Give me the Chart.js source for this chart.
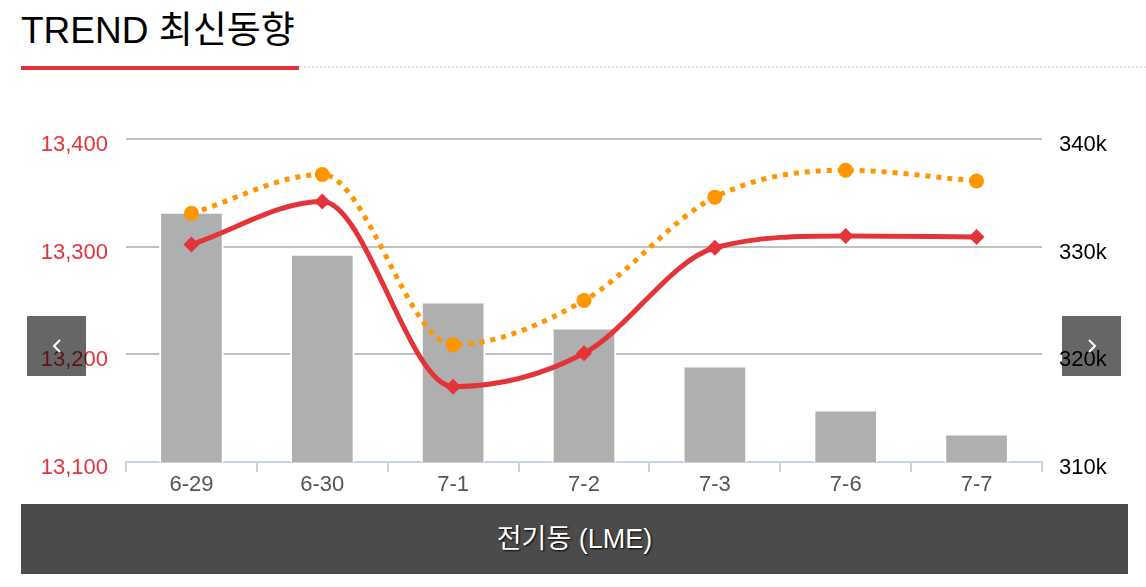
<!DOCTYPE html>
<html>
<head>
<meta charset="utf-8">
<script src="https://cdn.jsdelivr.net/npm/chart.js@4/dist/chart.umd.min.js"></script>
<style>
  body { margin: 0; width: 1146px; height: 587px; background: #fff; position: relative; overflow: hidden;
         font-family: "Liberation Sans", Arial, "Noto Sans CJK KR", sans-serif; }
  #title { position: absolute; left: 21px; top: 12px; font-size: 37px; line-height: 1; color: #000; white-space: nowrap; }
  #title-line { position: absolute; left: 299px; right: 0; top: 66px; border-top: 2px dotted #e3e6ec; }
  #title-red { position: absolute; left: 21px; width: 278px; top: 66px; height: 4px; background: #e3343a; }
  #wrap { position: absolute; left: 0; top: 100px; width: 1146px; height: 400px; }
  .nav { position: absolute; top: 316px; width: 59px; height: 60px; background: rgba(0,0,0,0.6); }
  .nav svg { position: absolute; left: 23px; top: 22px; }
  #footer { position: absolute; left: 21px; width: 1107px; top: 504px; height: 70px; background: #4b4b4b;
            color: #fff; font-size: 27px; text-align: center; line-height: 70px; text-shadow: 1px 1px 2px #000; }
</style>
</head>
<body>
<div id="title">TREND 최신동향</div>
<div id="title-line"></div>
<div id="title-red"></div>
<div id="wrap"><canvas id="chart"></canvas></div>
<div class="nav" style="left:27px"><svg width="14" height="16"><polyline points="10,2 4,8 10,14" fill="none" stroke="#fff" stroke-width="2"/></svg></div>
<div class="nav" style="left:1062px"><svg width="14" height="16"><polyline points="4,2 10,8 4,14" fill="none" stroke="#fff" stroke-width="2"/></svg></div>
<div id="footer">전기동 (LME)</div>
<script>
const $chart = document.querySelector("#chart");

const fechas = ["6-29", "6-30", "7-1", "7-2", "7-3", "7-6", "7-7"];
const precioRojo = [13302, 13342, 13170, 13201, 13299, 13310, 13309];
const precioNaranja = [13331, 13367, 13209, 13250, 13346, 13371, 13361];
const inventario = [333220, 329320, 324870, 322460, 318930, 314850, 312620];

const fuente = "'Liberation Sans', Arial, sans-serif";

new Chart($chart, {
    type: 'bar',
    data: {
        labels: fechas,
        datasets: [
            {
                type: 'line',
                data: precioRojo,
                yAxisID: 'y',
                borderColor: '#e3343a',
                backgroundColor: '#e3343a',
                borderWidth: 5,
                cubicInterpolationMode: 'monotone',
                pointStyle: 'rectRot',
                pointRadius: 8,
                pointBorderWidth: 0,
            },
            {
                type: 'line',
                data: precioNaranja,
                yAxisID: 'y',
                borderColor: '#ff9600',
                backgroundColor: '#ff9600',
                borderWidth: 5,
                borderDash: [5, 6],
                cubicInterpolationMode: 'monotone',
                pointStyle: 'circle',
                pointRadius: 7.5,
                pointBorderWidth: 0,
            },
            {
                data: inventario,
                yAxisID: 'y2',
                backgroundColor: '#afafaf',
                borderColor: '#fff',
                borderWidth: { top: 2, left: 2, right: 2, bottom: 0 },
                borderSkipped: false,
                barThickness: 64,
            }
        ]
    },
    options: {
        animation: false,
        responsive: true,
        maintainAspectRatio: false,
        layout: { padding: { top: 39, bottom: 0, left: 0, right: 0 } },
        plugins: { legend: { display: false }, tooltip: { enabled: false } },
        scales: {
            x: {
                offset: true,
                grid: { offset: true, drawOnChartArea: false, drawTicks: true, tickLength: 10, color: '#c6d3e2', lineWidth: 2 },
                border: { color: '#c6d3e2', width: 2 },
                ticks: { color: '#555', font: { family: fuente, size: 22 }, padding: 0 },
                afterFit: (s) => { s.height = 38; }
            },
            y: {
                position: 'left',
                min: 13100, max: 13400,
                ticks: { stepSize: 100, color: '#e3343a', padding: 18, labelOffset: 6, font: { family: fuente, size: 22 },
                         callback: (v) => v.toLocaleString('en-US') },
                grid: { color: '#c0c0c0', lineWidth: 2, drawTicks: false },
                border: { display: false },
                afterFit: (s) => { s.width = 126; }
            },
            y2: {
                position: 'right',
                min: 310000, max: 340000,
                ticks: { stepSize: 10000, color: '#000', padding: 17, labelOffset: 6, font: { family: fuente, size: 22 },
                         callback: (v) => (v / 1000) + 'k' },
                grid: { display: false, drawTicks: false },
                border: { display: false },
                afterFit: (s) => { s.width = 104; }
            }
        }
    }
});
</script>
</body>
</html>
